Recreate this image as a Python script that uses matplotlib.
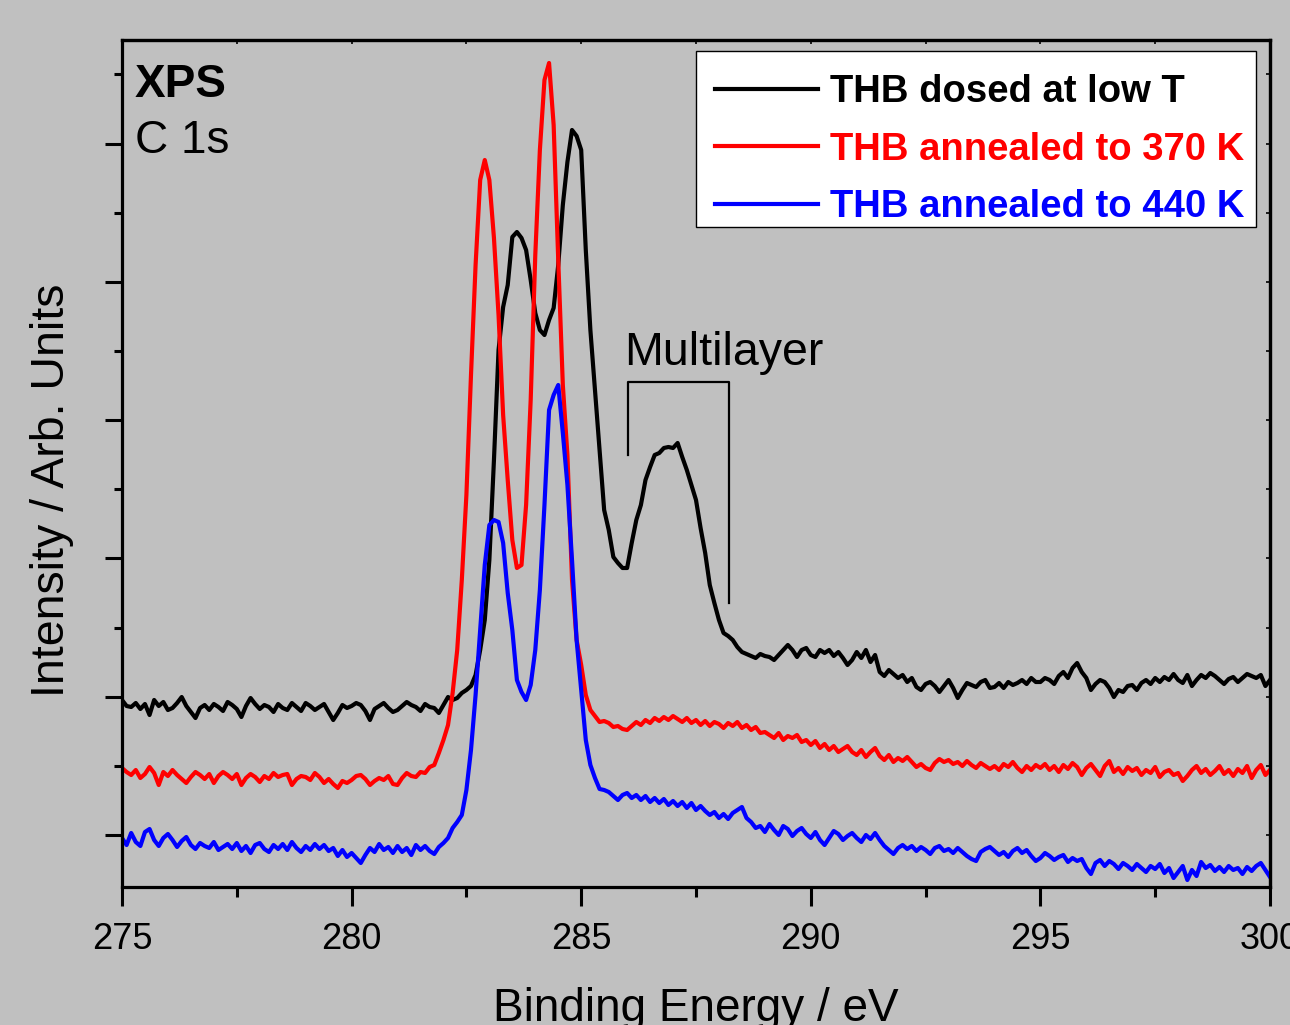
import numpy as np
import matplotlib
matplotlib.use("Agg")
import matplotlib.pyplot as plt
from matplotlib.ticker import MultipleLocator, FixedLocator
from matplotlib.patches import Rectangle

plt.rcParams['font.family'] = ['Liberation Sans', 'DejaVu Sans']

# Binding energy grid (eV), 0.1 eV steps from 275.0 to 300.0
energy = np.round(np.arange(275.0, 300.05, 0.1), 2)

# Intensities (arb. units)
thb_low_T = [
    187, 181, 180, 184, 178, 183, 172, 187, 181, 185,
    177, 179, 184, 190, 181, 175, 169, 179, 182, 177,
    183, 180, 176, 185, 182, 178, 170, 181, 189, 183,
    178, 182, 180, 175, 183, 179, 177, 184, 180, 176,
    184, 181, 177, 180, 183, 175, 167, 174, 182, 179,
    181, 184, 182, 176, 167, 178, 181, 184, 179, 175,
    177, 181, 185, 182, 180, 176, 183, 180, 179, 174,
    182, 190, 187, 189, 194, 197, 201, 212, 237, 267,
    327, 427, 537, 580, 602, 650, 655, 649, 637, 607,
    574, 557, 552, 567, 579, 622, 682, 725, 757, 751,
    737, 637, 557, 497, 437, 377, 357, 330, 324, 319,
    319, 344, 367, 382, 407, 420, 432, 434, 439, 440,
    439, 444, 430, 417, 402, 387, 359, 334, 302, 284,
    267, 254, 251, 247, 240, 235, 233, 231, 229, 233,
    231, 230, 227, 232, 237, 242, 237, 230, 237, 239,
    232, 230, 237, 234, 237, 231, 235, 229, 222, 227,
    235, 229, 237, 225, 232, 215, 211, 217, 213, 209,
    212, 205, 209, 200, 197, 203, 205, 201, 195, 201,
    207, 199, 189, 197, 204, 202, 200, 205, 207, 199,
    200, 204, 199, 205, 202, 204, 207, 203, 209, 205,
    205, 209, 207, 203, 211, 215, 209, 219, 224, 215,
    209, 197, 203, 207, 205, 199, 190, 197, 195, 201,
    202, 197, 204, 207, 203, 209, 205, 210, 207, 213,
    207, 204, 212, 201, 207, 212, 209, 214, 211, 207,
    203, 208, 210, 205, 209, 213, 211, 209, 212, 201,
    207,
]

thb_370K = [
    119, 115, 112, 117, 109, 113, 120, 114, 102, 115,
    111, 117, 112, 108, 104, 110, 115, 112, 108, 113,
    104, 111, 115, 112, 108, 113, 102, 109, 113, 110,
    105, 111, 108, 114, 110, 112, 113, 102, 108, 111,
    110, 107, 114, 110, 104, 108, 103, 99, 106, 104,
    107, 111, 112, 108, 102, 106, 109, 107, 111, 103,
    102, 109, 114, 111, 110, 115, 114, 120, 122, 134,
    147, 162, 194, 237, 307, 392, 512, 622, 707, 727,
    707, 649, 572, 472, 407, 347, 319, 322, 382, 487,
    632, 737, 807, 824, 762, 627, 502, 432, 307, 247,
    222, 192, 177, 171, 165, 166, 164, 160, 161, 158,
    157, 161, 165, 162, 167, 164, 169, 166, 170, 167,
    171, 168, 165, 169, 164, 167, 162, 166, 161, 165,
    163, 159, 164, 161, 165, 159, 162, 157, 160, 154,
    155, 152, 149, 154, 147, 151, 149, 152, 145, 147,
    142, 146, 139, 143, 137, 141, 135, 138, 141, 135,
    132, 137, 130, 135, 139, 131, 127, 132, 125, 129,
    126, 130, 125, 120, 123, 119, 117, 124, 128, 125,
    127, 123, 125, 121, 126, 122, 119, 124, 121, 118,
    121, 117, 123, 120, 125, 119, 115, 121, 117, 122,
    119, 123, 117, 121, 115, 122, 118, 124, 120, 112,
    119, 123, 117, 111, 121, 126, 115, 119, 113, 120,
    116, 119, 112, 117, 114, 120, 110, 115, 117, 112,
    114, 106, 111, 117, 121, 114, 118, 112, 116, 121,
    113, 117, 111, 118, 114, 121, 109, 117, 122, 112,
    117,
]

thb_440K = [
    49, 42, 54, 45, 41, 55, 58, 47, 41, 49,
    53, 47, 40, 46, 50, 42, 38, 44, 41, 39,
    45, 37, 40, 43, 38, 44, 36, 41, 34, 42,
    44, 38, 35, 42, 38, 43, 37, 45, 39, 35,
    41, 37, 43, 38, 42, 36, 39, 31, 37, 30,
    34, 29, 24, 32, 39, 35, 43, 37, 40, 34,
    41, 35, 39, 32, 42, 37, 41, 36, 33, 40,
    44, 49, 59, 65, 72, 97, 137, 192, 257, 322,
    362, 367, 365, 344, 294, 257, 207, 195, 187, 202,
    237, 297, 382, 477, 492, 502, 454, 402, 327, 247,
    197, 147, 122, 109, 98, 97, 95, 91, 87, 92,
    94, 89, 92, 87, 91, 85, 89, 84, 88, 82,
    86, 81, 85, 79, 84, 77, 81, 76, 72, 75,
    69, 73, 68, 74, 77, 80, 69, 65, 59, 61,
    55, 63, 57, 52, 61, 58, 51, 56, 59, 53,
    49, 55, 47, 42, 49, 56, 53, 47, 51, 54,
    49, 45, 52, 48, 54, 47, 41, 37, 33, 39,
    42, 38, 41, 36, 40, 37, 33, 39, 41, 36,
    38, 34, 39, 35, 31, 28, 26, 35, 38, 40,
    36, 32, 35, 30, 36, 39, 34, 37, 31, 26,
    29, 34, 31, 27, 30, 32, 25, 29, 26, 28,
    19, 13, 24, 27, 21, 26, 23, 18, 24, 21,
    17, 23, 19, 15, 21, 18, 23, 14, 19, 9,
    15, 21, 7, 17, 11, 25, 19, 22, 16, 20,
    15, 21, 17, 19, 13, 20, 16, 21, 24, 17,
    10,
]

series_labels = ["THB dosed at low T", "THB annealed to 370 K", "THB annealed to 440 K"]
series_colors = ["#000000", "#ff0000", "#0000ff"]
x_ticks = [275, 280, 285, 290, 295, 300]

# Multilayer bracket (energy, intensity)
bracket_e = [286.02, 286.02, 288.22, 288.22]
bracket_i = [432, 505, 505, 284]

bg = "#c0c0c0"
fig = plt.figure(figsize=(12.9, 10.25), dpi=100, facecolor=bg)
ax = fig.add_axes([122/1290, 1 - 887/1025, 1148/1290, 847/1025])
ax.set_facecolor(bg)

for data, lab, col in zip([thb_low_T, thb_370K, thb_440K], series_labels, series_colors):
    ax.plot(energy, data, color=col, lw=3.0, label=lab, solid_joinstyle='round')

ax.plot(bracket_e, bracket_i, color='black', lw=1.6)
ax.text(285.93, 522, "Multilayer", fontsize=33.5, ha='left', va='baseline')

ax.set_xlim(275, 300)
ax.set_ylim(0, 847)

ymaj = [52 + 138.3 * k for k in range(6)]
ymin = [52 + 69.15 + 138.3 * k for k in range(-1, 6)]
ax.xaxis.set_major_locator(FixedLocator(x_ticks))
ax.xaxis.set_minor_locator(MultipleLocator(2.5))
ax.yaxis.set_major_locator(FixedLocator(ymaj))
ax.yaxis.set_minor_locator(FixedLocator(ymin))
ax.set_yticklabels([])

for s in ax.spines.values():
    s.set_linewidth(2.3)

ax.tick_params(axis='x', which='major', direction='out', length=14, width=2.2,
               labelsize=26, pad=11, top=False)
ax.tick_params(axis='x', which='minor', direction='out', length=7, width=2.2, top=False)
ax.tick_params(axis='y', which='major', direction='out', length=12, width=2.2, right=False)
ax.tick_params(axis='y', which='minor', direction='out', length=6, width=2.2, right=False)

# small inward ticks on top and right
sec_x = ax.secondary_xaxis('top')
sec_x.xaxis.set_major_locator(FixedLocator(x_ticks))
sec_x.xaxis.set_minor_locator(MultipleLocator(2.5))
sec_x.tick_params(which='both', direction='in', length=3, width=1.2, labeltop=False)
sec_x.spines['top'].set_linewidth(2.3)
sec_y = ax.secondary_yaxis('right')
sec_y.yaxis.set_major_locator(FixedLocator(ymaj))
sec_y.yaxis.set_minor_locator(FixedLocator(ymin))
sec_y.tick_params(which='both', direction='in', length=3, width=1.2, labelright=False)
sec_y.spines['right'].set_linewidth(2.3)

ax.text(0.011, 1 - (97 - 40) / 847, "XPS", transform=ax.transAxes, fontsize=33,
        fontweight='bold', ha='left', va='baseline')
ax.text(0.011, 1 - (153 - 40) / 847, "C 1s", transform=ax.transAxes, fontsize=33,
        ha='left', va='baseline')

fig.text(52 / 1290, 1 - 490 / 1025, "Intensity / Arb. Units", rotation=90,
         fontsize=33.5, ha='center', va='center')
fig.text(696 / 1290, 1 - 1021 / 1025, "Binding Energy / eV", fontsize=33,
         ha='center', va='baseline')

# legend frame (white box) and legend entries
frame = Rectangle(((696 - 122) / 1148, (887 - 227) / 847), (1256 - 696) / 1148,
                  (227 - 51) / 847, transform=ax.transAxes, facecolor='white',
                  edgecolor='black', lw=1.0, zorder=5)
ax.add_patch(frame)
leg = ax.legend(loc='upper right', bbox_to_anchor=((1262 - 122) / 1148, (887 - 57) / 847),
                borderaxespad=0, frameon=False,
                prop={'size': 27.5, 'weight': 'bold'}, handlelength=2.7,
                handletextpad=0.32, labelspacing=0.56, borderpad=0.45)
leg.set_zorder(6)
for txt, col in zip(leg.get_texts(), series_colors):
    txt.set_color(col)

fig.savefig("out.png", dpi=100, facecolor=bg)
